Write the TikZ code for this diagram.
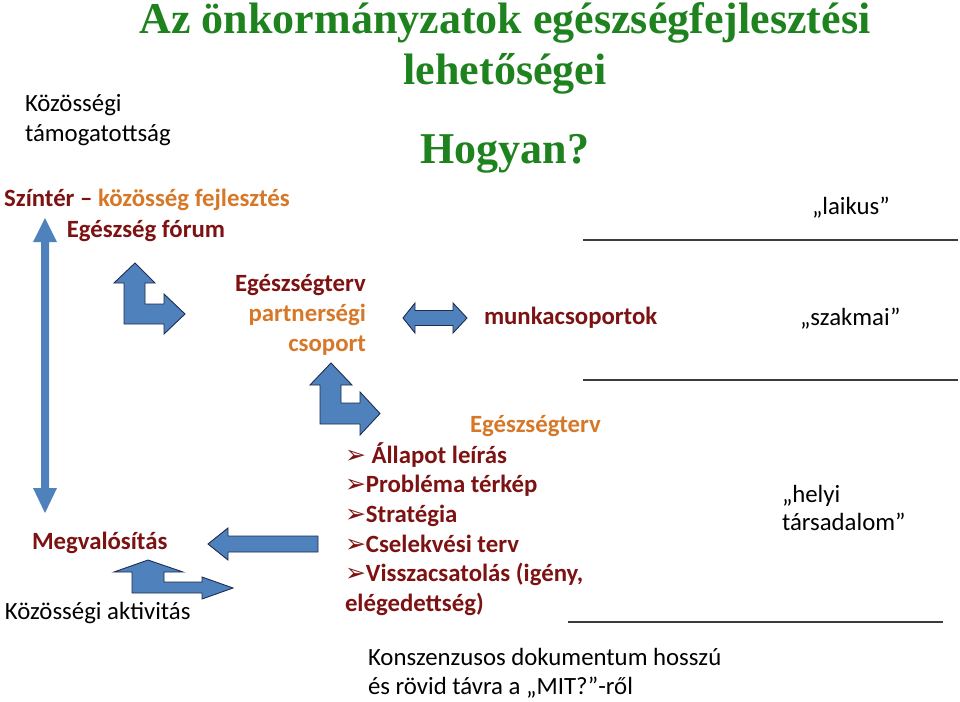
\documentclass[tikz,border=0pt]{standalone}
\usepackage{fontspec}
\setmainfont{Carlito}
\newfontfamily\titlefont{Liberation Serif}
\newfontfamily\symfont{DejaVu Sans}
\definecolor{dred}{RGB}{125,18,18}
\definecolor{orng}{RGB}{214,120,40}
\definecolor{tgreen}{RGB}{30,130,30}
\definecolor{ablue}{RGB}{79,129,189}
\definecolor{aline}{RGB}{30,45,80}
\definecolor{rulegray}{RGB}{60,60,60}
\newcommand{\bul}{{\symfont\fontsize{25}{30}\selectfont\raisebox{0pt}{➢}}}
\begin{document}
\begin{tikzpicture}[x=1pt,y=-1pt,
  every node/.style={inner sep=0pt,outer sep=0pt},
  ttl/.style={font=\titlefont\bfseries\fontsize{44}{50}\selectfont,text=tgreen,anchor=base},
  txt/.style={font=\fontsize{24.8}{30}\selectfont,anchor=base west},
  btxt/.style={font=\bfseries\fontsize{24.8}{30}\selectfont,anchor=base west},
  blockarrow/.style={fill=ablue,draw=aline,line width=0.9pt,line join=miter},
  flatarrow/.style={fill=ablue},
  rule/.style={draw=rulegray,line width=1.3pt}]
\useasboundingbox (0,0) rectangle (960,701);
\fill[white] (0,0) rectangle (960,701);

% title
\node[ttl] (t1) at (505,34) {Az önkormányzatok egészségfejlesztési};
\node[ttl] (t2) at (505,84) {lehetőségei};
\node[ttl] (t3) at (505,163) {Hogyan?};

% left column
\node[txt] (k1) at (25,111) {Közösségi};
\node[txt] (k2) at (25,141) {támogatottság};
\node[btxt,anchor=base] (sz) at (147,206) {\textcolor{dred}{Színtér –} \textcolor{orng}{közösség fejlesztés}};
\node[btxt,anchor=base,text=dred] (ef) at (146,237) {Egészség fórum};
\node[btxt,text=dred] (mv) at (32,549) {Megvalósítás};
\node[txt] (ka) at (5,619) {Közösségi aktivitás};

% partnership
\node[btxt,anchor=base east,text=dred] (p1) at (366,291) {Egészségterv};
\node[btxt,anchor=base east,text=orng] (p2) at (366,321) {partnerségi};
\node[btxt,anchor=base east,text=orng] (p3) at (366,351) {csoport};
\node[btxt,text=dred] (mk) at (484,324) {munkacsoportok};

% right column
\node[txt] (la) at (812,214) {„laikus”};
\node[txt] (sk) at (800,325) {„szakmai”};
\node[txt] (h1) at (782,502) {„helyi};
\node[txt] (h2) at (782,530) {társadalom”};

% plan list
\node[btxt,text=orng] (eg) at (470,432) {Egészségterv};
\node[btxt,text=dred] (l1) at (345,463) {\bul\ Állapot leírás};
\node[btxt,text=dred] (l2) at (345,492) {\bul Probléma térkép};
\node[btxt,text=dred] (l3) at (345,522) {\bul Stratégia};
\node[btxt,text=dred] (l4) at (345,552) {\bul Cselekvési terv};
\node[btxt,text=dred] (l5) at (345,581) {\bul Visszacsatolás (igény,};
\node[btxt,text=dred] (l6) at (345,611) {elégedettség)};

% bottom text
\node[txt] (c1) at (368,665) {Konszenzusos dokumentum hosszú};
\node[txt] (c2) at (368,694) {és rövid távra a „MIT?”-ről};

% rules
\draw[rule] (583,240) -- (958,240);
\draw[rule] (583,380) -- (958,380);
\draw[rule] (568,622) -- (943,622);

% vertical double arrow (no outline)
\fill[flatarrow] (45,218) -- (57,242) -- (49,242) -- (49,488) -- (57,488) -- (45,513)
  -- (33,488) -- (41,488) -- (41,242) -- (33,242) -- cycle;

% bent arrow 1
\draw[blockarrow] (135,263) -- (155,283) -- (145,283) -- (145,304) -- (164,304) -- (164,294)
  -- (185,314) -- (164,334) -- (164,324) -- (124,324) -- (124,283) -- (114,283) -- cycle;

% bent arrow 2
\draw[blockarrow] (331,363) -- (352,385) -- (341,385) -- (341,403) -- (360,403) -- (360,392)
  -- (380,413.5) -- (360,435) -- (360,424) -- (320,424) -- (320,385) -- (310,385) -- cycle;

% double horizontal arrow
\draw[blockarrow] (403,318) -- (415,303) -- (415,310.5) -- (453,310.5) -- (453,303) -- (467,318)
  -- (453,333) -- (453,325.5) -- (415,325.5) -- (415,333) -- cycle;

% left arrow
\draw[blockarrow] (208,544) -- (228,528) -- (228,536) -- (318,536) -- (318,552) -- (228,552)
  -- (228,560) -- cycle;

% bent arrow 3 (bottom)
\draw[blockarrow] (148,560) -- (183,572) -- (164,572) -- (164,582) -- (202,582) -- (202,577)
  -- (233,588) -- (202,599) -- (202,593) -- (132,593) -- (132,572) -- (114,572) -- cycle;
\end{tikzpicture}
\end{document}
